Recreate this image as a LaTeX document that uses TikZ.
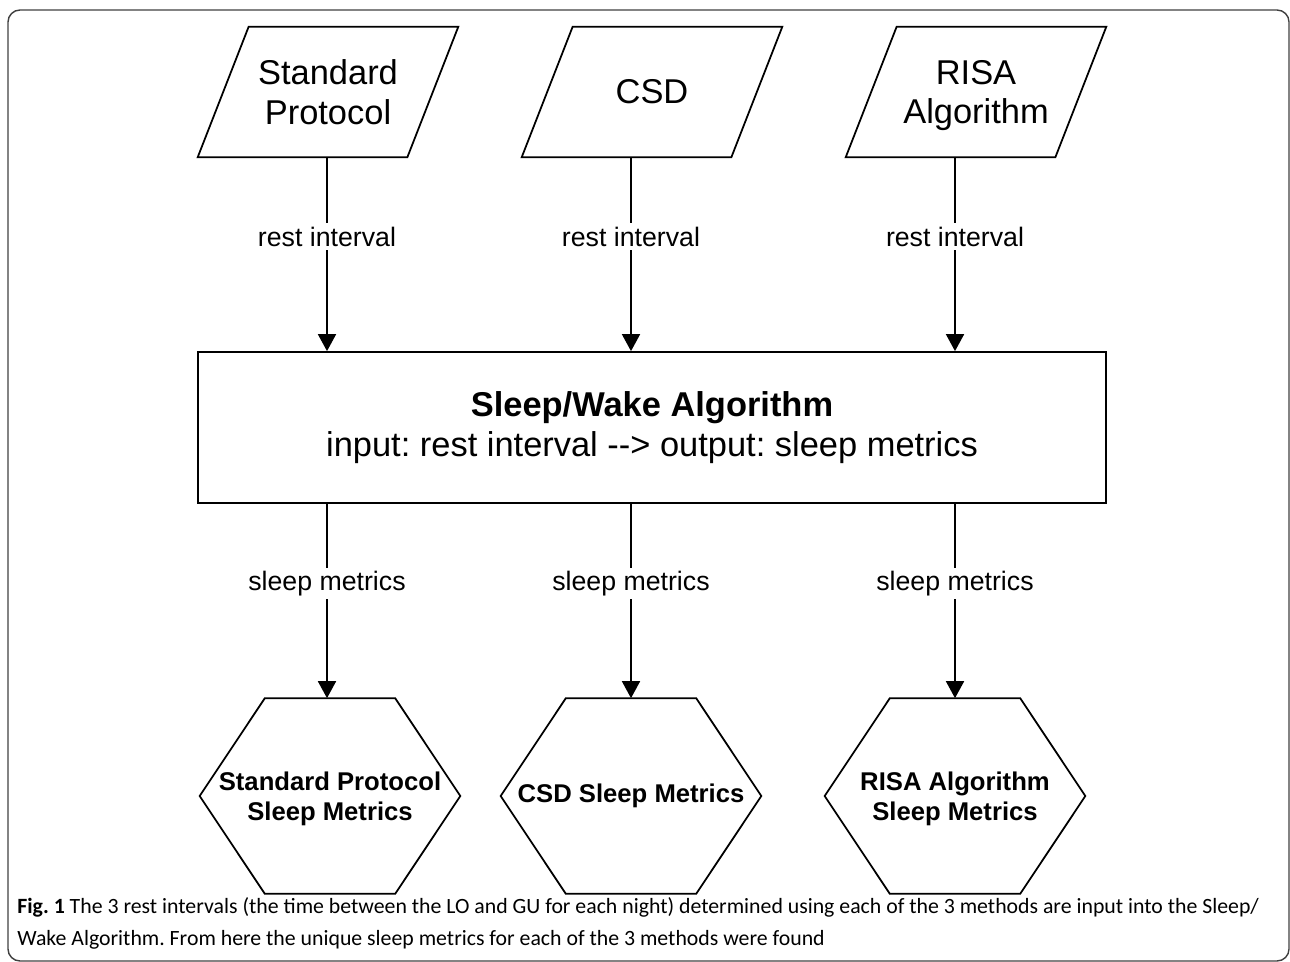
\documentclass[tikz,border=0pt]{standalone}
\usepackage{fontspec}
\setmainfont{Liberation Sans}
\newfontfamily\capfont{Carlito}
\usetikzlibrary{arrows.meta,calc}
\frenchspacing

\begin{document}
\begin{tikzpicture}[x=0.02cm,y=-0.02cm,
  every node/.style={font=\fontsize{19.6}{22.7}\selectfont},
  inbox/.style={minimum width=5.2cm,minimum height=2.6cm,inner sep=0pt,align=center},
  hexbox/.style={minimum width=5.2cm,minimum height=3.9cm,inner sep=0pt,align=center,font=\bfseries\fontsize{14.6}{16.8}\selectfont},
  lbl/.style={fill=white,inner sep=2pt,font=\fontsize{15.2}{18}\selectfont},
  edge/.style={line width=1pt},
  arr/.style={line width=1pt,-{Triangle[length=0.34cm,width=0.36cm]}}]
\useasboundingbox (0,0) rectangle (1290,962);
\draw[line width=0.8pt,black!75,rounded corners=0.24cm] (8,10) rectangle (1289,961);

% inputs
\node[inbox] (sp) at (328,92) {Standard\\Protocol};
\node[inbox] (csd) at (652,92) {CSD};
\node[inbox] (risa) at (976,92) {RISA\\\raisebox{0pt}[\height][0pt]{Algorithm}};
\foreach \n in {sp,csd,risa}
  \draw[edge] (\n.south west) -- ($(\n.north west)+(51,0)$) -- (\n.north east) -- ($(\n.south east)+(-51,0)$) -- cycle;

% algorithm
\node[draw,edge,minimum width=18.16cm,minimum height=3.02cm,align=center] (swa) at (652,427.5) {\textbf{Sleep/Wake Algorithm}\\input: rest interval -{}-> output: sleep metrics};

% outputs
\node[hexbox] (sphex) at (330,796) {Standard Protocol\\\raisebox{0pt}[\height][0pt]{Sleep Metrics}};
\node[hexbox] (csdhex) at (631,796) {CSD Sleep Metrics};
\node[hexbox] (risahex) at (955,796) {RISA Algorithm\\\raisebox{0pt}[\height][0pt]{Sleep Metrics}};
\foreach \n in {sphex,csdhex,risahex}
  \draw[edge] (\n.west) -- ($(\n.north west)!0.25!(\n.north east)$) -- ($(\n.north west)!0.75!(\n.north east)$) -- (\n.east) -- ($(\n.south west)!0.75!(\n.south east)$) -- ($(\n.south west)!0.25!(\n.south east)$) -- cycle;

\coordinate (c1) at (327,0);
\coordinate (c2) at (631,0);
\coordinate (c3) at (955,0);
\foreach \a/\c in {sp/c1, csd/c2, risa/c3}
  \draw[arr] (\a.south -| \c) -- node[lbl,pos=0.41]{rest interval} (swa.north -| \c);
\foreach \b/\c in {sphex/c1, csdhex/c2, risahex/c3}
  \draw[arr] (swa.south -| \c) -- node[lbl,pos=0.41]{sleep metrics} (\b.north -| \c);

% caption
\node[anchor=west,inner sep=0pt,align=left,font=\capfont\fontsize{12.4}{18.1}\selectfont] (cap) at (17,923) {\textbf{Fig. 1} The 3 rest intervals (the time between the LO and GU for each night) determined using each of the 3 methods are input into the Sleep/\\Wake Algorithm. From here the unique sleep metrics for each of the 3 methods were found};
\end{tikzpicture}
\end{document}
